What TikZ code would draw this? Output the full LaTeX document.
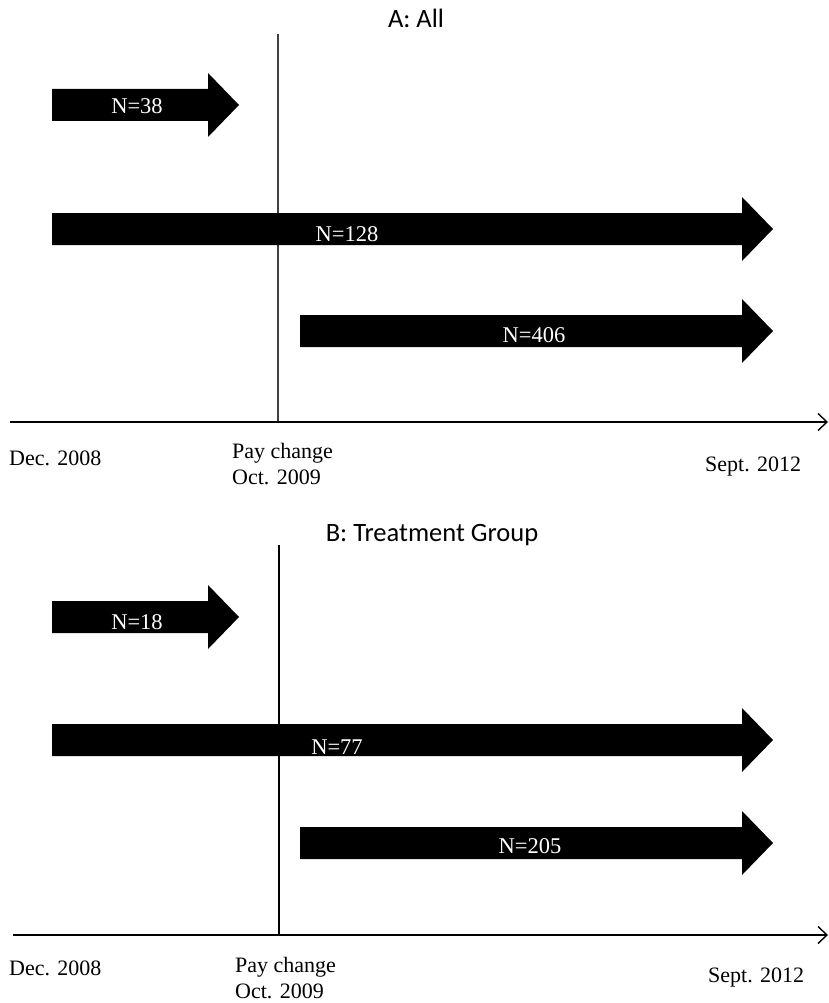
\documentclass[tikz,border=0pt]{standalone}
\usepackage{fontspec}
\setmainfont{Liberation Serif}
\newfontfamily\calib{Carlito}
\usetikzlibrary{arrows.meta}
\newcommand\fatarrow[3]{%
  \fill[fatfill] (#1,#3-16) -- (#2-31,#3-16) -- (#2-31,#3-32) -- (#2,#3) -- (#2-31,#3+32) -- (#2-31,#3+16) -- (#1,#3+16) -- cycle;}
\begin{document}
\begin{tikzpicture}[x=1pt,y=-1pt,
  fatfill/.style={fill=black},
  nlabel/.style={text=white,font=\fontsize{22.5}{27}\selectfont,inner sep=0pt},
  datelabel/.style={font=\fontsize{22}{26}\selectfont,inner sep=0pt,anchor=west,align=left},
  title/.style={font=\calib\fontsize{26.5}{30}\selectfont,inner sep=0pt},
  axis/.style={line width=1.6pt,-{Straight Barb[length=9pt,width=17pt,line width=1.4pt]}},
  marker/.style={line width=1.5pt}]
\useasboundingbox (0,0) rectangle (829,1003);
% ---------- Panel A ----------
\node[title] (tA) at (416,18) {A: All};
\coordinate (a0) at (10,422);
\coordinate (a1) at (828,422);
\coordinate (ma) at (278,34);
\coordinate (mab) at (278,422);
\draw[marker,black!75] (ma) -- (mab);
\fatarrow{52}{239}{105}
\fatarrow{52}{773}{229}
\fatarrow{300}{773}{331}
\node[nlabel] (n38) at (137,106) {N=38};
\node[nlabel] (n128) at (347,234) {N=128};
\node[nlabel] (n406) at (534,335) {N=406};
\draw[axis] (a0) -- (a1);
\node[datelabel] (decA) at (9,458) {Dec. 2008};
\node[datelabel] (payA) at (232,464) {Pay change\\Oct. 2009};
\node[datelabel] (sepA) at (705,467) {Sept. 2012};
% ---------- Panel B ----------
\node[title] (tB) at (432,535) {B: Treatment Group};
\coordinate (b0) at (13,935);
\coordinate (b1) at (828,935);
\coordinate (mb) at (279,545);
\coordinate (mbb) at (279,935);
\draw[marker,black] (mb) -- (mbb);
\fatarrow{52}{239}{617}
\fatarrow{52}{773}{740}
\fatarrow{300}{773}{843}
\node[nlabel] (n18) at (137,622) {N=18};
\node[nlabel] (n77) at (337,747) {N=77};
\node[nlabel] (n205) at (530,846) {N=205};
\draw[axis] (b0) -- (b1);
\node[datelabel] (decB) at (9,968) {Dec. 2008};
\node[datelabel] (payB) at (235,978) {Pay change\\Oct. 2009};
\node[datelabel] (sepB) at (708,978) {Sept. 2012};
\end{tikzpicture}
\end{document}
